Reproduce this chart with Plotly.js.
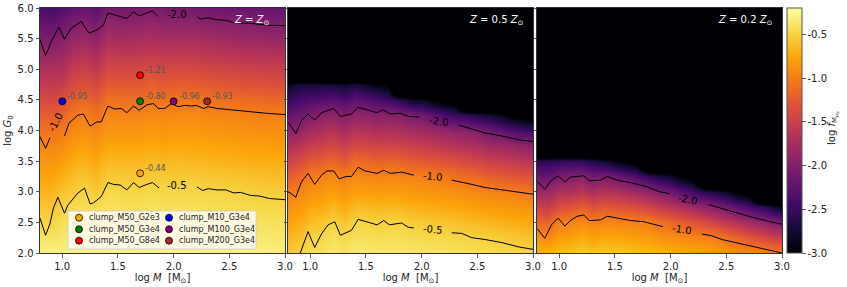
<!DOCTYPE html>
<html>
<head>
<meta charset="utf-8">
<script src="https://cdn.plot.ly/plotly-3.0.1.min.js"></script>
<style>
html,body{margin:0;padding:0;background:#fff;}
#chart{width:847px;height:287px;}
</style>
</head>
<body>
<div id="chart"></div>
<script>
// ---------- grid (cell centres) ----------
const logM = [0.8,0.9,1.0,1.1,1.2,1.3,1.4,1.5,1.6,1.7,1.8,1.9,2.0,2.1,2.2,2.3,2.4,2.5,2.6,2.7,2.8,2.9,3.0];
const logG = [2.0,2.25,2.5,2.75,3.0,3.25,3.5,3.75,4.0,4.25,4.5,4.75,5.0,5.25,5.5,5.75,6.0];
const B = -4.5; // far below colour range (drawn black)

// ---------- log f_MH2, one column per logM value (bottom -> top) ----------
const fZsun = [
 [-0.30,-0.39,-0.48,-0.57,-0.66,-0.76,-0.85,-0.94,-1.06,-1.22,-1.38,-1.53,-1.69,-1.85,-2.01,-2.20,-2.38],
 [-0.31,-0.40,-0.50,-0.59,-0.68,-0.77,-0.86,-0.95,-1.08,-1.24,-1.40,-1.55,-1.71,-1.87,-2.04,-2.23,-2.41],
 [-0.30,-0.37,-0.43,-0.50,-0.60,-0.71,-0.81,-0.92,-1.03,-1.19,-1.35,-1.52,-1.68,-1.84,-1.97,-2.15,-2.34],
 [-0.28,-0.34,-0.39,-0.45,-0.54,-0.63,-0.73,-0.83,-0.92,-1.03,-1.20,-1.37,-1.53,-1.70,-1.87,-2.04,-2.22],
 [-0.27,-0.32,-0.37,-0.43,-0.49,-0.58,-0.68,-0.79,-0.89,-0.99,-1.16,-1.32,-1.49,-1.66,-1.83,-2.00,-2.19],
 [-0.29,-0.35,-0.40,-0.46,-0.56,-0.66,-0.75,-0.85,-0.95,-1.08,-1.25,-1.41,-1.58,-1.75,-1.91,-2.09,-2.28],
 [-0.27,-0.31,-0.36,-0.41,-0.47,-0.55,-0.65,-0.75,-0.85,-0.95,-1.08,-1.24,-1.41,-1.57,-1.74,-1.90,-2.08],
 [-0.27,-0.31,-0.36,-0.42,-0.47,-0.56,-0.66,-0.76,-0.86,-0.96,-1.09,-1.26,-1.43,-1.59,-1.76,-1.93,-2.11],
 [-0.28,-0.32,-0.37,-0.43,-0.48,-0.57,-0.66,-0.76,-0.86,-0.96,-1.10,-1.26,-1.42,-1.59,-1.75,-1.92,-2.09],
 [-0.28,-0.32,-0.37,-0.43,-0.48,-0.57,-0.66,-0.76,-0.86,-0.96,-1.10,-1.26,-1.42,-1.59,-1.75,-1.92,-2.09],
 [-0.27,-0.31,-0.36,-0.41,-0.47,-0.55,-0.64,-0.74,-0.83,-0.93,-1.05,-1.21,-1.38,-1.55,-1.71,-1.88,-2.05],
 [-0.28,-0.32,-0.37,-0.43,-0.48,-0.56,-0.66,-0.76,-0.86,-0.95,-1.09,-1.26,-1.42,-1.59,-1.75,-1.92,-2.09],
 [-0.28,-0.32,-0.37,-0.42,-0.48,-0.56,-0.65,-0.74,-0.84,-0.93,-1.05,-1.22,-1.40,-1.57,-1.74,-1.91,-2.09],
 [-0.28,-0.33,-0.37,-0.42,-0.48,-0.56,-0.65,-0.75,-0.84,-0.93,-1.06,-1.23,-1.40,-1.57,-1.74,-1.91,-2.09],
 [-0.28,-0.32,-0.37,-0.43,-0.48,-0.56,-0.66,-0.75,-0.84,-0.93,-1.06,-1.23,-1.41,-1.58,-1.75,-1.92,-2.10],
 [-0.29,-0.33,-0.38,-0.43,-0.49,-0.58,-0.67,-0.76,-0.86,-0.95,-1.08,-1.25,-1.43,-1.60,-1.77,-1.95,-2.13],
 [-0.29,-0.33,-0.38,-0.44,-0.49,-0.58,-0.68,-0.77,-0.86,-0.96,-1.10,-1.27,-1.44,-1.62,-1.79,-1.97,-2.14],
 [-0.30,-0.35,-0.40,-0.45,-0.50,-0.59,-0.69,-0.78,-0.87,-0.97,-1.11,-1.28,-1.46,-1.63,-1.81,-1.98,-2.17],
 [-0.30,-0.35,-0.40,-0.45,-0.50,-0.60,-0.69,-0.79,-0.88,-0.97,-1.12,-1.30,-1.47,-1.65,-1.82,-1.99,-2.18],
 [-0.31,-0.36,-0.41,-0.46,-0.52,-0.61,-0.71,-0.80,-0.89,-0.98,-1.14,-1.31,-1.48,-1.66,-1.83,-2.00,-2.19],
 [-0.31,-0.36,-0.41,-0.47,-0.53,-0.62,-0.71,-0.80,-0.89,-0.99,-1.15,-1.32,-1.49,-1.67,-1.84,-2.01,-2.20],
 [-0.32,-0.37,-0.42,-0.47,-0.54,-0.63,-0.72,-0.81,-0.90,-0.99,-1.16,-1.33,-1.50,-1.67,-1.85,-2.02,-2.21],
 [-0.32,-0.37,-0.42,-0.48,-0.54,-0.63,-0.72,-0.81,-0.90,-0.99,-1.16,-1.34,-1.51,-1.68,-1.85,-2.03,-2.22]
];
const fZhalf = [
 [-0.55,-0.66,-0.78,-0.89,-1.02,-1.24,-1.47,-1.69,-1.92,-2.22,-2.52,-2.85,B,B,B,B,B],
 [-0.50,-0.61,-0.73,-0.84,-0.95,-1.15,-1.39,-1.64,-1.88,-2.16,-2.42,-2.70,B,B,B,B,B],
 [-0.43,-0.50,-0.63,-0.75,-0.88,-1.00,-1.26,-1.52,-1.77,-2.04,-2.36,-2.68,B,B,B,B,B],
 [-0.41,-0.48,-0.60,-0.73,-0.86,-0.99,-1.23,-1.47,-1.72,-1.96,-2.32,-2.70,B,B,B,B,B],
 [-0.35,-0.42,-0.50,-0.65,-0.80,-0.95,-1.16,-1.41,-1.65,-1.90,-2.26,-2.70,B,B,B,B,B],
 [-0.40,-0.47,-0.59,-0.73,-0.87,-1.02,-1.26,-1.51,-1.75,-2.00,-2.38,-2.78,B,B,B,B,B],
 [-0.35,-0.42,-0.50,-0.64,-0.79,-0.93,-1.13,-1.39,-1.64,-1.90,-2.24,-2.66,B,B,B,B,B],
 [-0.35,-0.42,-0.50,-0.64,-0.80,-0.95,-1.16,-1.41,-1.66,-1.91,-2.30,-2.78,B,B,B,B,B],
 [-0.36,-0.44,-0.52,-0.67,-0.82,-0.97,-1.20,-1.45,-1.71,-1.96,-2.40,-2.90,B,B,B,B,B],
 [-0.36,-0.43,-0.51,-0.66,-0.81,-0.96,-1.18,-1.44,-1.69,-1.95,-2.45,-3.00,B,B,B,B,B],
 [-0.36,-0.43,-0.51,-0.66,-0.81,-0.96,-1.19,-1.45,-1.71,-1.97,-2.58,B,B,B,B,B,B],
 [-0.37,-0.45,-0.55,-0.69,-0.84,-0.98,-1.23,-1.49,-1.76,-2.06,-2.80,B,B,B,B,B,B],
 [-0.38,-0.46,-0.56,-0.71,-0.85,-1.00,-1.26,-1.52,-1.78,-2.12,-2.80,B,B,B,B,B,B],
 [-0.39,-0.46,-0.58,-0.72,-0.87,-1.03,-1.29,-1.56,-1.82,-2.24,-3.00,B,B,B,B,B,B],
 [-0.39,-0.47,-0.59,-0.74,-0.88,-1.05,-1.32,-1.59,-1.86,-2.38,-3.10,B,B,B,B,B,B],
 [-0.40,-0.48,-0.60,-0.75,-0.89,-1.08,-1.36,-1.63,-1.91,-2.48,-3.20,B,B,B,B,B,B],
 [-0.42,-0.49,-0.63,-0.77,-0.92,-1.12,-1.40,-1.67,-1.95,-2.57,B,B,B,B,B,B,B],
 [-0.43,-0.51,-0.65,-0.80,-0.94,-1.16,-1.44,-1.71,-1.99,-2.66,B,B,B,B,B,B,B],
 [-0.44,-0.52,-0.67,-0.82,-0.96,-1.21,-1.49,-1.78,-2.12,-2.73,B,B,B,B,B,B,B],
 [-0.45,-0.54,-0.69,-0.84,-0.98,-1.24,-1.52,-1.81,-2.21,-2.85,B,B,B,B,B,B,B],
 [-0.46,-0.57,-0.71,-0.85,-0.99,-1.28,-1.56,-1.85,-2.32,-3.05,B,B,B,B,B,B,B],
 [-0.48,-0.59,-0.73,-0.87,-1.02,-1.31,-1.60,-1.90,-2.40,-3.15,B,B,B,B,B,B,B],
 [-0.48,-0.60,-0.74,-0.88,-1.05,-1.34,-1.63,-1.92,-2.46,-3.20,B,B,B,B,B,B,B]
];
const fZfifth = [
 [-0.68,-0.89,-1.16,-1.48,-1.81,-2.17,-2.60,B,B,B,B,B,B,B,B,B,B],
 [-0.70,-0.91,-1.19,-1.52,-1.84,-2.20,-2.58,B,B,B,B,B,B,B,B,B,B],
 [-0.62,-0.81,-1.00,-1.35,-1.69,-2.06,-2.55,B,B,B,B,B,B,B,B,B,B],
 [-0.60,-0.79,-0.98,-1.31,-1.68,-2.02,-2.53,B,B,B,B,B,B,B,B,B,B],
 [-0.55,-0.73,-0.92,-1.22,-1.60,-1.98,-2.55,B,B,B,B,B,B,B,B,B,B],
 [-0.60,-0.79,-0.98,-1.34,-1.72,-2.13,-2.64,B,B,B,B,B,B,B,B,B,B],
 [-0.56,-0.75,-0.94,-1.26,-1.65,-2.05,-2.75,B,B,B,B,B,B,B,B,B,B],
 [-0.58,-0.76,-0.95,-1.29,-1.68,-2.14,-2.95,B,B,B,B,B,B,B,B,B,B],
 [-0.60,-0.78,-0.96,-1.33,-1.74,-2.25,-3.05,B,B,B,B,B,B,B,B,B,B],
 [-0.62,-0.80,-0.99,-1.38,-1.80,-2.39,-3.15,B,B,B,B,B,B,B,B,B,B],
 [-0.64,-0.82,-1.00,-1.44,-1.88,-2.55,B,B,B,B,B,B,B,B,B,B,B],
 [-0.68,-0.86,-1.11,-1.55,-2.00,-2.71,B,B,B,B,B,B,B,B,B,B,B],
 [-0.70,-0.89,-1.16,-1.62,-2.12,-2.82,B,B,B,B,B,B,B,B,B,B,B],
 [-0.73,-0.91,-1.24,-1.70,-2.26,-3.05,B,B,B,B,B,B,B,B,B,B,B],
 [-0.76,-0.94,-1.31,-1.80,-2.43,-3.15,B,B,B,B,B,B,B,B,B,B,B],
 [-0.78,-0.96,-1.39,-1.90,-2.57,B,B,B,B,B,B,B,B,B,B,B,B],
 [-0.82,-0.99,-1.48,-1.98,-2.68,B,B,B,B,B,B,B,B,B,B,B,B],
 [-0.86,-1.08,-1.58,-2.10,-2.80,B,B,B,B,B,B,B,B,B,B,B,B],
 [-0.89,-1.16,-1.67,-2.25,-3.05,B,B,B,B,B,B,B,B,B,B,B,B],
 [-0.92,-1.27,-1.79,-2.40,-3.15,B,B,B,B,B,B,B,B,B,B,B,B],
 [-0.95,-1.35,-1.88,-2.52,B,B,B,B,B,B,B,B,B,B,B,B,B],
 [-0.98,-1.45,-1.98,-2.70,B,B,B,B,B,B,B,B,B,B,B,B,B],
 [-1.00,-1.52,-2.10,-2.92,B,B,B,B,B,B,B,B,B,B,B,B,B]
];

// ---------- contour lines (null = label gap) ----------
const c1m2x = [0.8,0.85,0.9,0.97,1.02,1.08,1.17,1.24,1.31,1.37,1.41,1.49,1.58,1.64,1.69,1.76,1.81,1.86,null,2.21,2.24,2.31,2.38,2.47,2.54,2.69,2.84,3.0];
const c1m2y = [5.49,5.22,5.45,5.69,5.49,5.67,5.78,5.59,5.64,5.72,5.92,5.88,5.83,5.94,5.87,5.92,5.95,5.86,null,5.86,5.82,5.84,5.81,5.80,5.76,5.75,5.72,5.71];
const c1m1x = [0.8,0.85,0.89,null,1.02,1.06,1.14,1.19,1.25,1.31,1.35,1.41,1.47,1.53,1.58,1.64,1.69,1.76,1.82,1.86,1.92,1.98,2.04,2.1,2.16,2.2,2.27,2.31,2.39,2.54,2.69,2.84,3.0];
const c1m1y = [3.9,3.71,3.88,null,3.91,4.12,4.25,4.27,4.07,4.14,4.14,4.4,4.35,4.36,4.29,4.4,4.33,4.42,4.44,4.36,4.36,4.44,4.39,4.41,4.4,4.41,4.36,4.39,4.36,4.33,4.3,4.28,4.26];
const c1m05x = [0.8,0.85,0.89,0.92,0.96,1.02,1.05,1.14,1.2,1.25,1.28,1.35,1.41,1.46,1.52,1.58,1.64,1.69,1.76,1.81,1.87,null,2.21,2.26,2.31,2.39,2.47,2.54,2.6,2.69,2.77,2.86,3.0];
const c1m05y = [2.57,2.29,2.48,2.73,2.91,2.65,2.78,2.98,3.06,2.8,2.82,2.92,3.15,3.12,3.11,3.03,3.15,3.07,3.12,3.15,3.06,null,3.08,3.02,3.05,3.03,3.03,2.98,2.99,2.94,2.93,2.89,2.87];

const c2m2x = [0.8,0.82,0.87,0.92,0.98,1.04,1.1,1.21,1.27,1.37,1.43,1.5,1.6,1.65,1.72,1.81,1.88,1.98,null,2.33,2.45,2.57,2.72,2.87,3.0];
const c2m2y = [4.12,4.09,3.95,4.16,4.27,4.17,4.29,4.36,4.23,4.27,4.38,4.34,4.29,4.34,4.27,4.28,4.23,4.22,null,4.09,4.03,3.96,3.91,3.85,3.82];
const c2m1x = [0.8,0.82,0.87,0.92,0.98,1.04,1.1,1.15,1.21,1.26,1.32,1.37,1.43,1.49,1.6,1.66,1.72,1.82,1.93,null,2.27,2.36,2.45,2.57,2.72,2.87,3.0];
const c2m1y = [3.0,2.98,2.91,3.16,3.30,3.12,3.27,3.34,3.34,3.21,3.25,3.25,3.40,3.34,3.30,3.35,3.30,3.32,3.27,null,3.19,3.16,3.12,3.07,3.03,3.0,2.96];
const c2m05x = [0.91,0.98,1.04,1.1,1.16,1.22,1.27,1.37,1.43,1.5,1.6,1.66,1.71,1.82,1.88,1.93,null,2.27,2.36,2.45,2.57,2.72,2.87,3.0];
const c2m05y = [2.0,2.35,2.09,2.31,2.46,2.51,2.29,2.37,2.55,2.51,2.46,2.53,2.46,2.49,2.42,2.41,null,2.33,2.32,2.25,2.22,2.17,2.1,2.06];

const c3m2x = [0.8,0.81,0.87,0.93,0.99,1.05,1.1,1.22,1.27,1.37,1.43,1.52,1.66,1.79,1.9,1.99,null,2.34,2.45,2.58,2.72,2.87,3.0];
const c3m2y = [3.17,3.15,3.04,3.19,3.26,3.16,3.24,3.26,3.18,3.19,3.25,3.19,3.14,3.08,3.0,2.97,null,2.79,2.73,2.67,2.59,2.52,2.47];
const c3m1x = [0.8,0.81,0.87,0.93,0.99,1.05,1.1,1.16,1.22,1.27,1.37,1.43,1.52,1.64,1.76,1.86,1.93,null,2.28,2.37,2.46,2.58,2.72,2.87,3.0];
const c3m1y = [2.4,2.38,2.24,2.46,2.57,2.44,2.53,2.60,2.62,2.53,2.54,2.60,2.57,2.53,2.51,2.46,2.43,null,2.31,2.28,2.22,2.17,2.11,2.05,2.0];

// contour labels: [panel, text, x, y, angle]
const cLabels = [
 [1,'-2.0',2.03,5.89,0],[1,'-1.0',0.945,4.14,-62],[1,'-0.5',2.03,3.11,0],
 [2,'-2.0',2.16,4.14,8],[2,'-1.0',2.10,3.25,6],[2,'-0.5',2.10,2.38,6],
 [3,'-2.0',2.16,2.88,10],[3,'-1.0',2.10,2.38,8]
];

// ---------- clumps ----------
const clumpNames = ['clump_M50_G2e3','clump_M50_G3e4','clump_M50_G8e4','clump_M10_G3e4','clump_M100_G3e4','clump_M200_G3e4'];
const clumpLogM  = [1.699,1.699,1.699,1.0,2.0,2.301];
const clumpLogG  = [3.301,4.477,4.903,4.477,4.477,4.477];
const clumpF     = ['-0.44','-0.80','-1.21','-0.95','-0.96','-0.93'];
const clumpColor = ['#ffa500','#008000','#ff0000','#0000ff','#800080','#a52a2a'];

const panelTitles = ['<i>Z</i> = <i>Z</i><sub>⊙</sub>','<i>Z</i> = 0.5 <i>Z</i><sub>⊙</sub>','<i>Z</i> = 0.2 <i>Z</i><sub>⊙</sub>'];
const cbTicks = [-3.0,-2.5,-2.0,-1.5,-1.0,-0.5];
const cbTickText = ['-3.0','-2.5','-2.0','-1.5','-1.0','-0.5'];
const xTicks = [1.0,1.5,2.0,2.5,3.0];
const yTicks = [2.0,2.5,3.0,3.5,4.0,4.5,5.0,5.5,6.0];

// ---------- style ----------
const inferno = [
 [0.0,'#000004'],[0.1,'#160b39'],[0.2,'#420a68'],[0.3,'#6a176e'],[0.4,'#932667'],
 [0.5,'#bc3754'],[0.6,'#dd513a'],[0.7,'#f37819'],[0.8,'#fca50a'],[0.9,'#f6d746'],[1.0,'#fcffa4']
];
const FONT = 'DejaVu Sans, Liberation Sans, sans-serif';
const W = 847, H = 287, ML = 40, MR = 45, MT = 8, MB = 34;
const PW = W - ML - MR, PH = H - MT - MB;
const px2x = p => (p - ML) / PW;
const px2y = p => (H - MB - p) / PH;
const domains = [[px2x(40),px2x(285)],[px2x(288),px2x(533)],[px2x(537),px2x(782)]];
const zsets = [fZsun, fZhalf, fZfifth];
const contours = [
 [[c1m2x,c1m2y],[c1m1x,c1m1y],[c1m05x,c1m05y]],
 [[c2m2x,c2m2y],[c2m1x,c2m1y],[c2m05x,c2m05y]],
 [[c3m2x,c3m2y],[c3m1x,c3m1y]]
];

const traces = [];
const layout = {
  width: W, height: H,
  margin: {l: ML, r: MR, t: MT, b: MB},
  paper_bgcolor: '#fff', plot_bgcolor: '#000',
  font: {family: FONT, size: 10, color: '#222'},
  showlegend: false,
  annotations: [], shapes: []
};

for (let p = 0; p < 3; p++) {
  const sx = p === 0 ? '' : String(p + 1);
  traces.push({
    type: 'heatmap', x: logM, y: logG, z: zsets[p], transpose: true,
    colorscale: inferno, zmin: -3.0, zmax: -0.2, zsmooth: 'best',
    xaxis: 'x' + sx, yaxis: 'y' + sx, hoverinfo: 'skip',
    showscale: p === 0,
    colorbar: {
      x: px2x(787), xanchor: 'left', xpad: 0, y: 0.5, yanchor: 'middle', len: 1, ypad: 0,
      thickness: 15, thicknessmode: 'pixels', outlinewidth: 1, outlinecolor: '#555',
      tickvals: cbTicks, ticktext: cbTickText, ticks: 'outside', ticklen: 3.5, tickwidth: 0.8,
      tickcolor: '#333', tickfont: {family: FONT, size: 10, color: '#222'}
    }
  });
  contours[p].forEach(c => traces.push({
    type: 'scatter', mode: 'lines', x: c[0], y: c[1], connectgaps: false,
    xaxis: 'x' + sx, yaxis: 'y' + sx, line: {color: '#000', width: 1}, hoverinfo: 'skip'
  }));
  const axCommon = {
    showline: true, mirror: true, linecolor: '#333', linewidth: 1,
    ticks: 'outside', ticklen: 3.5, tickwidth: 0.8, tickcolor: '#333',
    showgrid: false, zeroline: false, fixedrange: true,
    tickfont: {family: FONT, size: 10, color: '#222'}
  };
  layout['xaxis' + sx] = Object.assign({}, axCommon, {
    domain: domains[p], range: [0.8, 3.0], anchor: 'y' + sx,
    tickvals: xTicks, ticktext: xTicks.map(v => v.toFixed(1)),
    title: {text: 'log <i>M</i>  [M<sub>⊙</sub>]', font: {family: FONT, size: 10, color: '#222'}, standoff: 3}
  });
  const yax = Object.assign({}, axCommon, {
    domain: [0, 1], range: [2.0, 6.0], anchor: 'x' + sx,
    tickvals: yTicks, ticktext: yTicks.map(v => v.toFixed(1)),
    showticklabels: p === 0
  });
  if (p === 0) yax.title = {text: 'log <i>G</i><sub>0</sub>', font: {family: FONT, size: 10, color: '#222'}, standoff: 4};
  layout['yaxis' + sx] = yax;
  layout.annotations.push({
    xref: 'paper', yref: 'paper', x: [px2x(271), px2x(526), px2x(775)][p], y: px2y(21),
    xanchor: 'right', yanchor: 'middle', showarrow: false, text: panelTitles[p],
    font: {family: FONT, size: 10, color: '#fff'}
  });
}

// contour labels
cLabels.forEach(l => {
  const sx = l[0] === 1 ? '' : String(l[0]);
  layout.annotations.push({
    xref: 'x' + sx, yref: 'y' + sx, x: l[2], y: l[3], text: l[1], textangle: l[4],
    showarrow: false, font: {family: FONT, size: 10, color: '#000'}
  });
});

// clump points
traces.push({
  type: 'scatter', mode: 'markers', x: clumpLogM, y: clumpLogG, text: clumpNames,
  xaxis: 'x', yaxis: 'y', hoverinfo: 'text',
  marker: {size: 7, color: clumpColor, line: {color: '#000', width: 0.8}}
});
clumpLogM.forEach((x, i) => layout.annotations.push({
  xref: 'x', yref: 'y', x: x, y: clumpLogG[i], text: clumpF[i], showarrow: false,
  xanchor: 'left', yanchor: 'middle', xshift: 3, yshift: 5,
  font: {family: FONT, size: 8, color: '#555'}
}));

// legend (two columns) drawn in panel 1
layout.shapes.push({
  type: 'rect', xref: 'paper', yref: 'paper', layer: 'above',
  x0: px2x(68), x1: px2x(256), y0: px2y(249), y1: px2y(211),
  fillcolor: 'rgba(255,255,255,0.8)', line: {color: '#cccccc', width: 0.8}
});
const legColX = [79, 169], legRowY = [217.7, 229.3, 240.7];
clumpNames.forEach((n, i) => {
  const cx = legColX[Math.floor(i / 3)], cy = legRowY[i % 3];
  layout.shapes.push({
    type: 'circle', xref: 'paper', yref: 'paper', layer: 'above',
    xsizemode: 'pixel', ysizemode: 'pixel', xanchor: px2x(cx), yanchor: px2y(cy),
    x0: -3.5, x1: 3.5, y0: -3.5, y1: 3.5,
    fillcolor: clumpColor[i], line: {color: '#000', width: 0.8}
  });
  layout.annotations.push({
    xref: 'paper', yref: 'paper', x: px2x(cx + 8), y: px2y(cy), xanchor: 'left', yanchor: 'middle',
    showarrow: false, text: n, font: {family: FONT, size: 8, color: '#222'}
  });
});

// colorbar label
layout.annotations.push({
  xref: 'paper', yref: 'paper', x: px2x(833), y: px2y(128), textangle: -90,
  xanchor: 'center', yanchor: 'middle', showarrow: false,
  text: 'log <i>f</i><sub>M<sub>H₂</sub></sub>', font: {family: FONT, size: 10, color: '#222'}
});

Plotly.newPlot('chart', traces, layout, {displayModeBar: false, staticPlot: true});
</script>
</body>
</html>
